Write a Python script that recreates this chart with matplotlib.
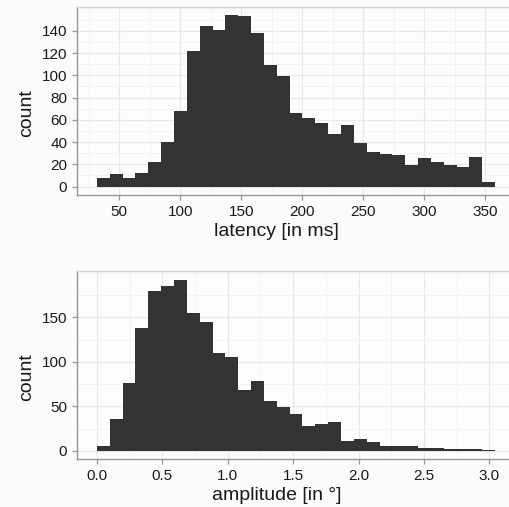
"""
Two histograms: saccade latency and saccade amplitude.
"""

import numpy as np
import matplotlib.pyplot as plt
from matplotlib.ticker import MultipleLocator


# ==========================================================
# DATA
# ==========================================================

# latency histogram (31 bins)
latency_start = 31.7
latency_binwidth = 10.53
latency_counts = [8, 11, 8, 12, 22, 40, 68, 122, 144, 141, 154, 153,
                  138, 109, 99, 66, 62, 57, 47, 55, 39, 31, 29, 28,
                  19, 26, 22, 19, 18, 27, 4]
latency_xticks = [50, 100, 150, 200, 250, 300, 350]
latency_yticks = [0, 20, 40, 60, 80, 100, 120, 140]

# amplitude histogram (31 bins)
amplitude_start = 0.0
amplitude_binwidth = 0.0982
amplitude_counts = [5, 36, 76, 138, 180, 185, 192, 155, 145, 110, 106,
                    68, 79, 56, 49, 42, 28, 30, 33, 11, 13, 10, 6, 5,
                    6, 3, 3, 2, 2, 2, 1]
amplitude_xticks = [0.0, 0.5, 1.0, 1.5, 2.0, 2.5, 3.0]
amplitude_yticks = [0, 50, 100, 150]


# ==========================================================
# STYLE
# ==========================================================

BAR_COLOR = "#323333"
FIG_BG = "#FAFBFD"
PANEL_BG = "#FDFDFE"
GRID_MAJOR = "#E9E7E7"
GRID_MINOR = "#F3F2F2"
AXIS_COLOR = "#9A9696"
BORDER_COLOR = "#D6D4D4"
TEXT_COLOR = "#1a1a1a"

plt.rcParams["font.family"] = ["Liberation Sans", "DejaVu Sans"]


def draw_hist(ax, start, width, counts, xticks, yticks,
              xminor, yminor, xlabel):

    counts = np.asarray(counts, dtype=float)
    edges = start + width * np.arange(len(counts) + 1)

    ax.stairs(counts, edges, fill=True, color=BAR_COLOR,
              linewidth=0, zorder=3)

    # ggplot-like 5 % expansion
    xr = edges[-1] - edges[0]
    yr = counts.max()
    ax.set_xlim(edges[0] - 0.05 * xr, edges[-1] + 0.05 * xr)
    ax.set_ylim(-0.05 * yr, yr * 1.05)

    ax.set_xticks(xticks)
    ax.set_yticks(yticks)
    ax.xaxis.set_minor_locator(MultipleLocator(xminor))
    ax.yaxis.set_minor_locator(MultipleLocator(yminor))

    if isinstance(xticks[0], float):
        ax.set_xticklabels([f"{t:.1f}" for t in xticks])

    ax.set_facecolor(PANEL_BG)
    ax.grid(which="major", color=GRID_MAJOR, linewidth=0.9, zorder=0)
    ax.grid(which="minor", color=GRID_MINOR, linewidth=0.6, zorder=0)
    ax.set_axisbelow(True)

    ax.spines["top"].set_color(BORDER_COLOR)
    ax.spines["top"].set_linewidth(1.0)
    ax.spines["right"].set_visible(False)
    for side in ["left", "bottom"]:
        ax.spines[side].set_color(AXIS_COLOR)
        ax.spines[side].set_linewidth(1.0)

    ax.tick_params(which="major", length=3.6, width=0.9, color=AXIS_COLOR,
                   labelsize=11, labelcolor=TEXT_COLOR, pad=3.5)
    ax.tick_params(which="minor", length=0)

    ax.set_xlabel(xlabel, fontsize=14, color=TEXT_COLOR, labelpad=2.5)
    ax.set_ylabel("count", fontsize=14, color=TEXT_COLOR, labelpad=5)

    # titles sit a bit off the panel centre in the original
    ax.xaxis.label.set_x(0.456)
    ax.yaxis.label.set_y(0.436)


# ==========================================================
# FIGURE
# ==========================================================

fig = plt.figure(figsize=(5.10, 5.07), dpi=100, facecolor=FIG_BG)

ax_top = fig.add_axes([0.151, 0.615, 0.859, 0.372])
ax_bot = fig.add_axes([0.151, 0.0937, 0.859, 0.371])

draw_hist(ax_top, latency_start, latency_binwidth, latency_counts,
          latency_xticks, latency_yticks, 25, 10, "latency [in ms]")

draw_hist(ax_bot, amplitude_start, amplitude_binwidth, amplitude_counts,
          amplitude_xticks, amplitude_yticks, 0.25, 25, "amplitude [in °]")

fig.savefig("out.png", dpi=100, facecolor=FIG_BG)
